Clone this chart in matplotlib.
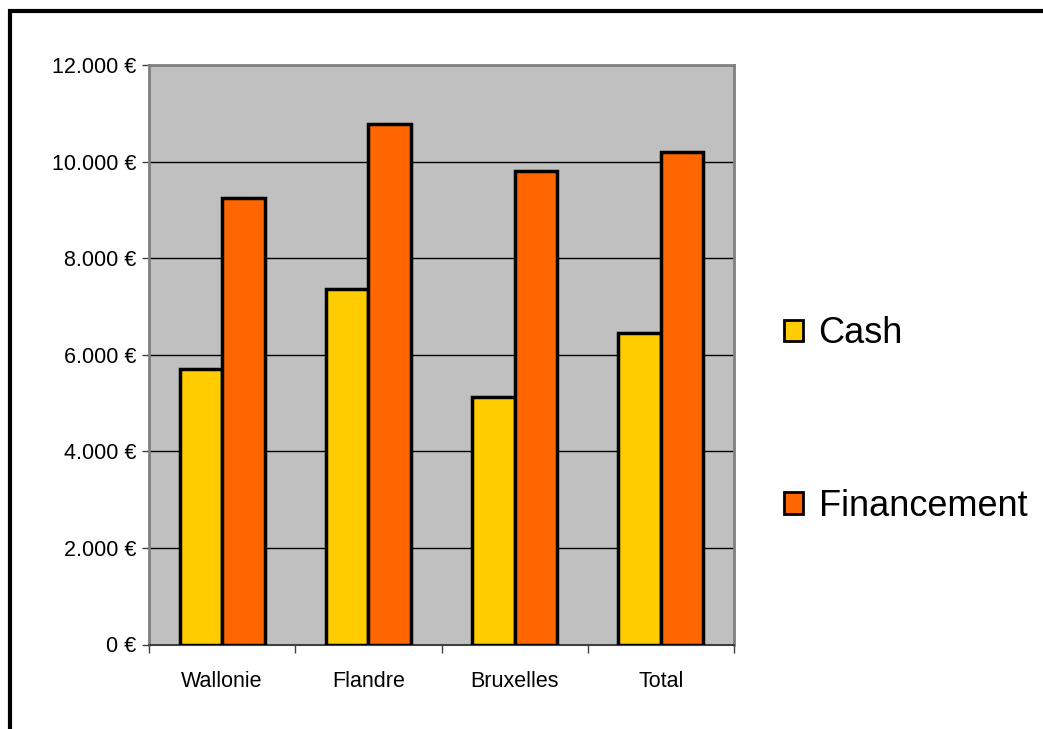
import matplotlib.pyplot as plt
import matplotlib.patches as mpatches
from matplotlib.ticker import FuncFormatter, FixedLocator
import numpy as np

plt.rcParams['font.family'] = ['Liberation Sans', 'DejaVu Sans']

regions = ['Wallonie', 'Flandre', 'Bruxelles', 'Total']
cash = [5700, 7370, 5120, 6460]
financement = [9250, 10780, 9810, 10190]
series_names = ['Cash', 'Financement']
colors = ['#FFCC00', '#FF6600']

fig = plt.figure(figsize=(10.43, 7.29), dpi=100)
ax = fig.add_axes([149 / 1043, 1 - 644.5 / 729, 585 / 1043, 579.5 / 729])
ax.set_facecolor('#C0C0C0')

x = np.arange(len(regions))
w = 0.29
ax.bar(x - w / 2, cash, w, color=colors[0], edgecolor='black',
       linewidth=2.5, zorder=3)
ax.bar(x + w / 2, financement, w, color=colors[1], edgecolor='black',
       linewidth=2.5, zorder=3)

ax.set_xlim(-0.5, len(regions) - 0.5)
ax.set_ylim(0, 12000)
ax.set_yticks(np.arange(0, 12001, 2000))
ax.yaxis.set_major_formatter(
    FuncFormatter(lambda v, p: f'{v:,.0f}'.replace(',', '.') + ' €'))
ax.grid(axis='y', color='black', linewidth=1, zorder=1)

# ticks on the category borders, labels in the middle
ax.set_xticks(x)
ax.set_xticklabels(regions)
ax.xaxis.set_minor_locator(FixedLocator(np.arange(-0.5, len(regions), 1)))
ax.tick_params(axis='x', which='major', length=0, pad=19, labelsize=15.5)
ax.tick_params(axis='x', which='minor', length=6, width=1, color='#404040')
ax.tick_params(axis='y', length=5, width=1, color='#404040', pad=4,
               labelsize=15.5)

for side in ['left', 'top', 'right']:
    ax.spines[side].set_color('#808080')
    ax.spines[side].set_linewidth(2)
ax.spines['bottom'].set_color('#404040')
ax.spines['bottom'].set_linewidth(1.5)

# legend on the right
handles = [mpatches.Patch(facecolor=c, edgecolor='black', linewidth=2)
           for c in colors]
fig.legend(handles, series_names, loc='center left',
           bbox_to_anchor=(751 / 1043, 1 - 420 / 729), frameon=False,
           fontsize=26, handlelength=0.55, handleheight=0.55,
           handletextpad=0.42, labelspacing=3.8)

# outer frame (continues past the right and bottom edges)
frame = mpatches.Rectangle((9.5 / 1043, -0.1), 1.2, (1 - 11.5 / 729) + 0.1,
                           transform=fig.transFigure, fill=False,
                           edgecolor='black', linewidth=3)
fig.patches.append(frame)

fig.savefig('out.png', dpi=100, facecolor='white')
